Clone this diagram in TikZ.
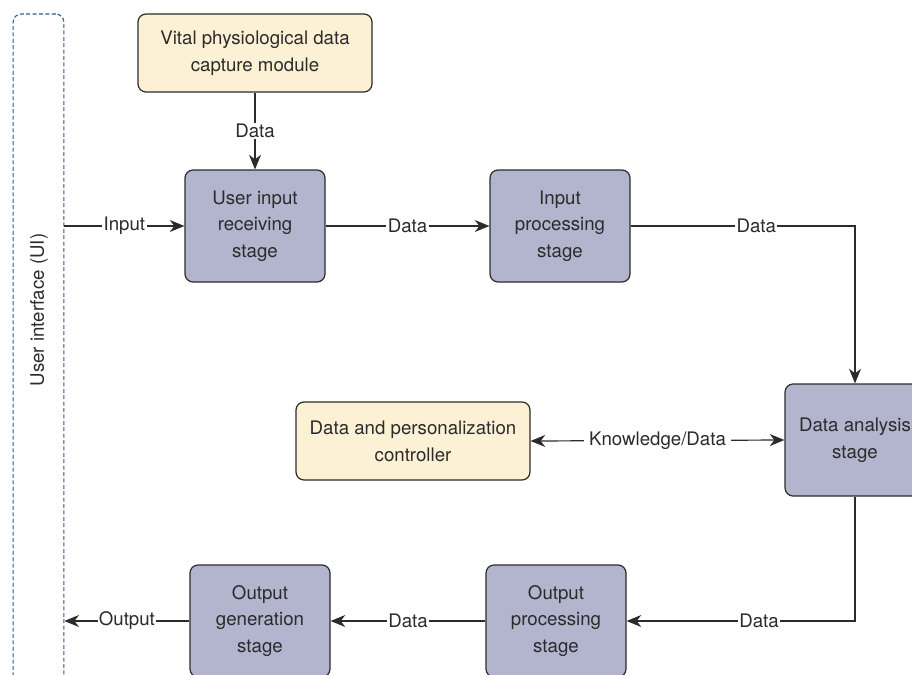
\documentclass[tikz,border=0pt]{standalone}
\usepackage{fontspec}
\setmainfont{TeX Gyre Heros}
\usetikzlibrary{arrows.meta,positioning,calc}
\definecolor{stagefill}{HTML}{B3B5CF}
\definecolor{modfill}{HTML}{FCF1D4}
\definecolor{uiblue}{HTML}{2C5B8C}
\definecolor{linegray}{HTML}{2B2B2B}

\begin{document}
\begin{tikzpicture}[x=0.75pt, y=-0.75pt,
	font=\fontsize{14}{20}\selectfont,
	stagebox/.style={draw=linegray, line width=0.9pt, fill=stagefill, rounded corners=6pt, minimum width=105pt, minimum height=84pt, align=center, text=linegray},
	modbox/.style={draw=linegray, line width=0.9pt, fill=modfill, rounded corners=6pt, minimum width=175.5pt, minimum height=58.5pt, align=center, text=linegray},
	flow/.style={draw=linegray, line width=0.9pt, -{Stealth[length=11pt,width=9pt,inset=3.5pt]}},
	lbl/.style={fill=white, inner sep=1pt, text=linegray}]
	\useasboundingbox (0,0) rectangle (912,674);
	\clip (0,0) rectangle (912,674);
	% user interface column
	\node[draw=uiblue, line width=0.8pt, dash pattern=on 3pt off 1.8pt, rounded corners=6pt, minimum width=38pt, minimum height=519pt] (ui) at (38.5,360) {};
	\node[rotate=90, text=linegray] (uilabel) at (39,310) {User interface (UI)};
	% modules
	\node[modbox] (vital) at (255,53) {Vital physiological data\\capture module};
	\node[modbox] (ctrl) at (413,441) {Data and personalization\\controller};
	% stages
	\node[stagebox] (recv) at (255,226) {User input\\receiving\\stage};
	\node[stagebox] (proc) at (560,226) {Input\\processing\\stage};
	\node[stagebox] (anal) at (855,440) {Data analysis\\stage};
	\node[stagebox] (oproc) at (556,621) {Output\\processing\\stage};
	\node[stagebox] (ogen) at (260,621) {Output\\generation\\stage};
	% connectors
	\draw[flow] (vital) -- node[lbl]{Data} (recv);
	\draw[flow] (ui.east |- recv.west) -- node[lbl]{Input} (recv.west);
	\draw[flow] (recv) -- node[lbl]{Data} (proc);
	\draw[flow] (proc.east) -- node[lbl, pos=0.56]{Data} (proc.east -| anal.north) -- (anal.north);
	\draw[draw=linegray, line width=0.9pt, {Stealth[length=11pt,width=9pt,inset=3.5pt]}-{Stealth[length=11pt,width=9pt,inset=3.5pt]}] (ctrl.east) -- node[lbl, inner sep=4pt]{Knowledge/Data} (anal.west);
	\draw[flow] (anal.south) -- (anal.south |- oproc.east) -- node[lbl, pos=0.42]{Data} (oproc.east);
	\draw[flow] (oproc) -- node[lbl]{Data} (ogen);
	\draw[flow] (ogen.west) -- node[lbl]{Output} (ogen.west -| ui.east);
\end{tikzpicture}
\end{document}
